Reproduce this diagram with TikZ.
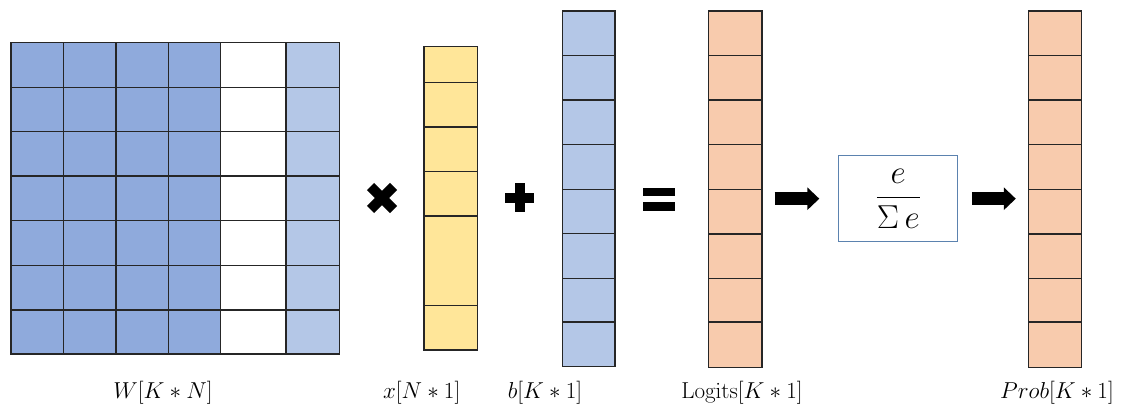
\documentclass[tikz,border=0pt]{standalone}
\usetikzlibrary{arrows.meta}
\definecolor{wblue}{HTML}{8FAADC}
\definecolor{lblue}{HTML}{B4C7E7}
\definecolor{yel}{HTML}{FFE699}
\definecolor{ora}{HTML}{F8CBAD}
\definecolor{boxc}{RGB}{91,130,175}
\begin{document}
\begin{tikzpicture}[x=0.75pt,y=-0.75pt,
  cell/.style={draw=black!85, line width=0.9pt},
  lbl/.style={font=\fontsize{19}{23}\selectfont, inner sep=0pt, anchor=base},
  blockarrow/.style={line width=9.75pt, -{Triangle[length=9pt, width=16.5pt]}},
  symb/.style={line width=7.5pt}]
\useasboundingbox (0,0) rectangle (1127,407);

% W matrix
\foreach \xa/\xb/\c in {11/63.3/wblue, 63.3/116/wblue, 116/168.3/wblue, 168.3/220.7/wblue, 220.7/286/white, 286/339.3/lblue}
  \foreach \ya/\yb in {42.7/87.3, 87.3/131.7, 131.7/176, 176/220.7, 220.7/265.3, 265.3/310, 310/354}
    \draw[cell, fill=\c] (\xa,\ya) rectangle (\xb,\yb);
\node[inner sep=0pt, minimum width=246.2pt, minimum height=233.5pt] (W) at (175.2,198.4) {};

% x vector
\foreach \ya/\yb in {46.7/82.3, 82.3/127, 127/171.7, 171.7/216, 216/305.3, 305.3/350}
  \draw[cell, fill=yel] (424,\ya) rectangle (477.3,\yb);
\node[inner sep=0pt, minimum width=40pt, minimum height=227.5pt] (x) at (450.7,198.4) {};

% b vector
\foreach \ya/\yb in {11/55.3, 55.3/100, 100/144.7, 144.7/189.3, 189.3/233.7, 233.7/278.3, 278.3/322, 322/366.7}
  \draw[cell, fill=lblue] (562.3,\ya) rectangle (615,\yb);
\node[inner sep=0pt, minimum width=39.5pt, minimum height=267.5pt] (b) at (588.7,188.9) {};

% Logits vector
\foreach \ya/\yb in {11/55.7, 55.7/100, 100/144.7, 144.7/189.3, 189.3/234, 234/278.3, 278.3/322, 322/367.3}
  \draw[cell, fill=ora] (708.3,\ya) rectangle (762,\yb);
\node[inner sep=0pt, minimum width=40.3pt, minimum height=267.2pt] (lg) at (735.2,189.2) {};

% Prob vector
\foreach \ya/\yb in {11/55.7, 55.7/100, 100/144.7, 144.7/189.3, 189.3/234, 234/278.3, 278.3/322, 322/367.3}
  \draw[cell, fill=ora] (1028.3,\ya) rectangle (1081.7,\yb);
\node[inner sep=0pt, minimum width=40pt, minimum height=267.2pt] (pr) at (1055,189.2) {};

% softmax box
\node[draw=boxc, line width=1.1pt, minimum width=89.25pt, minimum height=64.5pt, inner sep=0pt,
      font=\fontsize{25}{30}\selectfont] (sm) at (898.2,198.7) {$\displaystyle\frac{e}{\Sigma\, e}$};

% operators
\coordinate (mul) at (382,198);
\draw[symb] ([shift={(-11.5,-11.5)}]mul) -- ([shift={(11.5,11.5)}]mul);
\draw[symb] ([shift={(-11.5,11.5)}]mul) -- ([shift={(11.5,-11.5)}]mul);
\coordinate (add) at (519.5,197.5);
\fill ([shift={(-14.5,-5)}]add) rectangle ([shift={(14.5,5)}]add);
\fill ([shift={(-5,-14.5)}]add) rectangle ([shift={(5,14.5)}]add);
\coordinate (eq) at (659,199.5);
\fill ([shift={(-16,-11.5)}]eq) rectangle ([shift={(16,-3.5)}]eq);
\fill ([shift={(-16,2.5)}]eq) rectangle ([shift={(16,11.5)}]eq);

% arrows
\draw[blockarrow] ([xshift=9.2pt]lg.east |- sm.west) -- ([xshift=-14pt]sm.west);
\draw[blockarrow] ([xshift=10pt]sm.east) -- ([xshift=-9.2pt]pr.west |- sm.east);

% labels
\node[lbl] (lW) at (163,398.5) {$W[K\ast N]$};
\node[lbl] (lx) at (421.7,398.5) {$x[N\ast 1]$};
\node[lbl] (lb) at (545,398.5) {$b[K\ast 1]$};
\node[lbl] (ll) at (742,398.5) {$\mathrm{Logits}[K\ast 1]$};
\node[lbl] (lp) at (1057,398.5) {$Prob[K\ast 1]$};
\end{tikzpicture}
\end{document}
